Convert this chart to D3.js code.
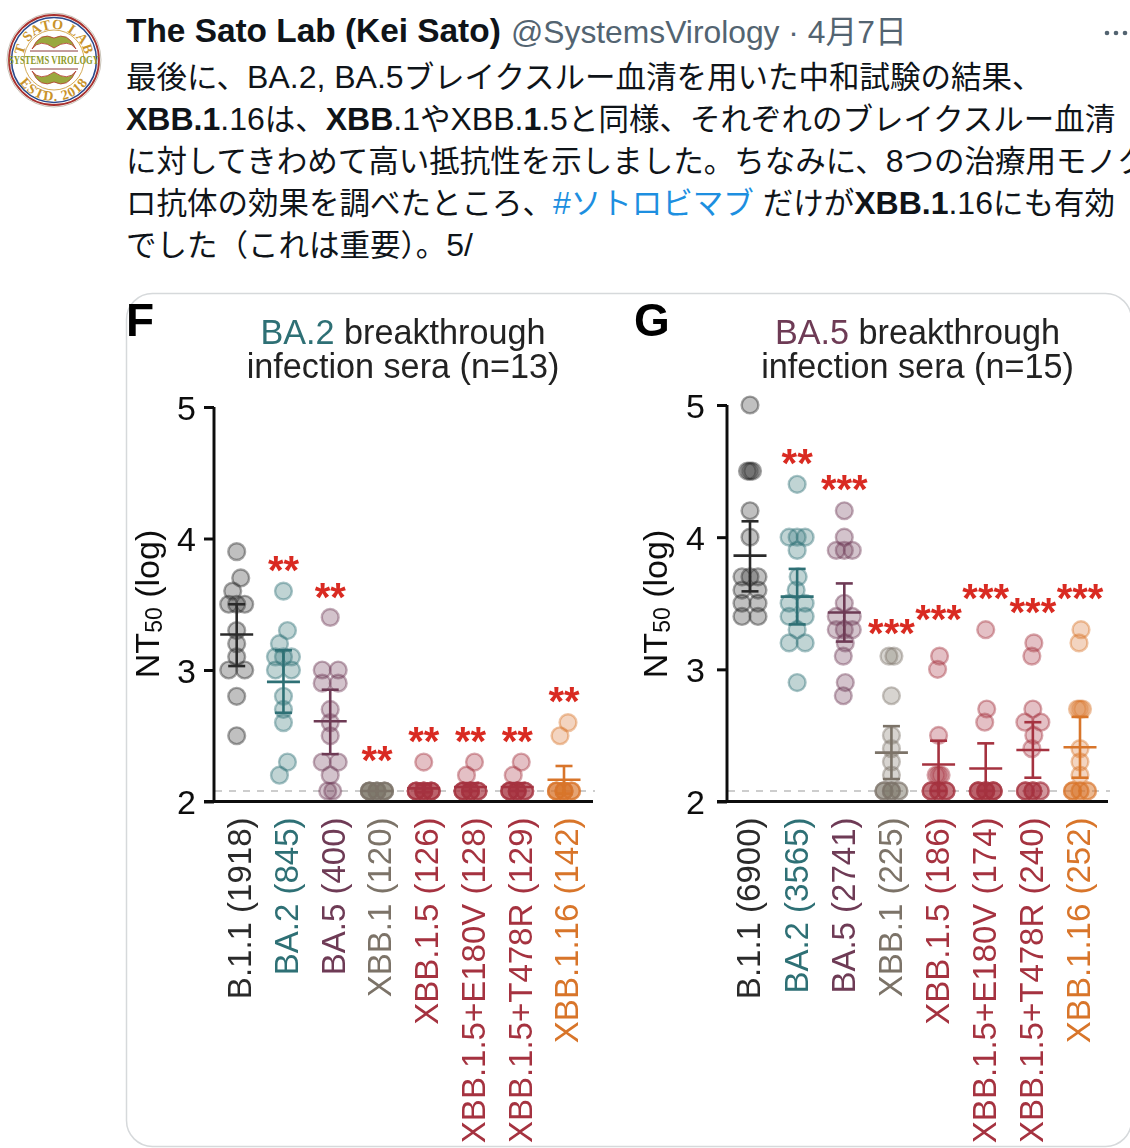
<!DOCTYPE html>
<html lang="ja"><head><meta charset="utf-8">
<script src="https://cdnjs.cloudflare.com/ajax/libs/d3/7.8.5/d3.min.js"></script>
<style>html,body{margin:0;padding:0;background:#fff;overflow:hidden}svg{display:block}</style>
</head><body><svg id="c" width="1130" height="1148"></svg>
<script>
const floorV = 2.08;
const fLabels = ["B.1.1 (1918)","BA.2 (845)","BA.5 (400)","XBB.1 (120)","XBB.1.5 (126)","XBB.1.5+E180V (128)","XBB.1.5+T478R (129)","XBB.1.16 (142)"];
const gLabels = ["B.1.1 (6900)","BA.2 (3565)","BA.5 (2741)","XBB.1 (225)","XBB.1.5 (186)","XBB.1.5+E180V (174)","XBB.1.5+T478R (240)","XBB.1.16 (252)"];
const fValues = [
 [3.9,3.7,3.6,3.5,3.5,3.5,3.3,3.2,3.1,3.0,3.0,2.8,2.5],
 [3.6,3.3,3.2,3.1,3.1,3.1,3.0,3.0,2.8,2.7,2.6,2.3,2.2],
 [3.4,3.0,3.0,2.9,2.9,2.7,2.6,2.5,2.3,2.3,2.2,2.08,2.08],
 [2.08,2.08,2.08,2.08,2.08,2.08,2.08,2.08,2.08,2.08,2.08,2.08,2.08],
 [2.3,2.08,2.08,2.08,2.08,2.08,2.08,2.08,2.08,2.08,2.08,2.08,2.08],
 [2.3,2.2,2.08,2.08,2.08,2.08,2.08,2.08,2.08,2.08,2.08,2.08,2.08],
 [2.3,2.2,2.08,2.08,2.08,2.08,2.08,2.08,2.08,2.08,2.08,2.08,2.08],
 [2.6,2.5,2.08,2.08,2.08,2.08,2.08,2.08,2.08,2.08,2.08,2.08,2.08]];
const gValues = [
 [5.0,4.5,4.5,4.5,4.2,4.0,3.7,3.7,3.7,3.6,3.6,3.5,3.5,3.4,3.4],
 [4.4,4.0,4.0,4.0,3.9,3.7,3.6,3.5,3.5,3.4,3.4,3.3,3.2,3.2,2.9],
 [4.2,4.0,3.9,3.9,3.9,3.5,3.4,3.4,3.3,3.3,3.3,3.2,3.1,2.9,2.8],
 [3.1,3.1,2.8,2.5,2.4,2.3,2.2,2.08,2.08,2.08,2.08,2.08,2.08,2.08,2.08],
 [3.1,3.0,2.5,2.2,2.2,2.2,2.08,2.08,2.08,2.08,2.08,2.08,2.08,2.08,2.08],
 [3.3,2.7,2.6,2.08,2.08,2.08,2.08,2.08,2.08,2.08,2.08,2.08,2.08,2.08,2.08],
 [3.2,3.1,2.7,2.6,2.6,2.5,2.4,2.08,2.08,2.08,2.08,2.08,2.08,2.08,2.08],
 [3.3,3.2,2.7,2.7,2.7,2.4,2.3,2.2,2.08,2.08,2.08,2.08,2.08,2.08,2.08]];
const fMean  = [3.27,2.91,2.61,2.08,2.10,2.11,2.11,2.165];
const fUpper = [3.50,3.15,2.85,2.08,2.13,2.14,2.14,2.27];
const fLower = [3.03,2.675,2.36,2.08,2.07,2.08,2.08,2.06];
const gMean  = [3.86,3.55,3.43,2.37,2.28,2.25,2.39,2.41];
const gUpper = [4.12,3.76,3.65,2.57,2.46,2.44,2.60,2.64];
const gLower = [3.59,3.34,3.21,2.17,2.08,2.08,2.18,2.18];
const fStars = ["","**","**","**","**","**","**","**"];
const gStars = ["","**","***","***","***","***","***","***"];
const fStarLevel = [0,3.80,3.59,2.35,2.50,2.50,2.50,2.80];
const gStarLevel = [0,4.60,4.40,3.31,3.42,3.58,3.47,3.58];
const yTicks = [2,3,4,5];
const colors = ["#2b2b2b","#2e6f74","#6e3a55","#7b7368","#a5333f","#a5333f","#a5333f","#d8752a"];
const tweetLines = [
 [["最後に、BA.2, BA.5ブレイクスルー血清を用いた中和試験の結果、",0]],
 [["XBB.1",1],[".16は、",0],["XBB",1],[".1や",0],["XBB.",0],["1",1],[".5と同様、それぞれのブレイクスルー血清",0]],
 [["に対してきわめて高い抵抗性を示しました。ちなみに、8つの治療用モノク",0]],
 [["ロ抗体の効果を調べたところ、",0],["#ソトロビマブ",2],[" だけが",0],["XBB.1",1],[".16にも有効",0]],
 [["でした（これは重要）。5/",0]]];

const svg = d3.select("#c");
const SANS = '"Liberation Sans",Arial,sans-serif';
const CJK = '"Liberation Sans","Noto Sans CJK JP",sans-serif';

/* ---- tweet header ---- */
const logo = svg.append("g").attr("transform","translate(54,60)");
const rings=[[47,"#fff","#c9c3b8",1],[45,"none","#a8322f",1.8],[42.5,"none","#2b4a8c",1.6],[30,"none","#c9932a",.8]];
rings.forEach(r=>logo.append("circle").attr("r",r[0]).attr("fill",r[1]).attr("stroke",r[2]).attr("stroke-width",r[3]));
const defs=svg.append("defs");
defs.append("path").attr("id","arcT").attr("d","M-31,0A31,31 0 0 1 31,0");
defs.append("path").attr("id","arcB").attr("d","M-41,0A41,41 0 0 0 41,0");
logo.append("text").attr("font-family",'"Liberation Serif",serif').attr("font-weight","700").attr("font-size",14).attr("fill","#c9932a").attr("letter-spacing",.6)
 .append("textPath").attr("href","#arcT").attr("startOffset","50%").attr("text-anchor","middle").text("T SATO LAB");
logo.append("text").attr("font-family",'"Liberation Serif",serif').attr("font-weight","700").attr("font-size",14).attr("fill","#c9932a").attr("letter-spacing",1)
 .append("textPath").attr("href","#arcB").attr("startOffset","50%").attr("text-anchor","middle").text("ESTD. 2018");
[-1,1].forEach(s=>{
  logo.append("path").attr("d",`M-22,${s*11}Q-14,${s*22} 0,${s*12}Q14,${s*22} 22,${s*11}Q14,${s*29} 0,${s*22}Q-14,${s*29} -22,${s*11}Z`).attr("fill","#9aa83e").attr("stroke","#b5372f").attr("stroke-width",.8);
  logo.append("line").attr("x1",-24).attr("x2",24).attr("y1",s*9).attr("y2",s*9).attr("stroke","#8a3a3a").attr("stroke-width",1);
});
logo.append("text").attr("text-anchor","middle").attr("y",4).attr("font-family",'"Liberation Serif",serif').attr("font-weight","700").attr("font-size",12).attr("fill","#8c9a2a").attr("textLength",90).attr("lengthAdjust","spacingAndGlyphs").text("SYSTEMS VIROLOGY");

svg.append("text").attr("x",126).attr("y",42).attr("font-family",SANS).attr("font-weight","700").attr("font-size",33.4).attr("fill","#0f1419").text("The Sato Lab (Kei Sato)");
svg.append("text").attr("x",511).attr("y",43).attr("font-family",CJK).attr("font-size",31.8).attr("fill","#536471").text("@SystemsVirology · 4月7日");
d3.range(3).forEach(i=>svg.append("circle").attr("cx",1107+i*9).attr("cy",33).attr("r",2.3).attr("fill","#536471"));

const tw = svg.append("g").attr("font-family",CJK).attr("font-size",30.5).attr("fill","#0f1419");
tweetLines.forEach((ln,i)=>{
  const t=tw.append("text").attr("x",126).attr("y",88+i*42).attr("xml:space","preserve");
  ln.forEach(s=>{
    (s[0].match(/[\x21-\x7e ]+|[^\x21-\x7e ]+/g)||[]).forEach(part=>{
      const latin=/^[\x21-\x7e ]/.test(part);
      t.append("tspan").text(part).attr("font-size",latin?32:null)
       .attr("font-weight",s[1]==1?700:400).attr("fill",s[1]==2?"#1d8fe0":null);
    });
  });
});

/* ---- card ---- */
svg.append("rect").attr("x",126.5).attr("y",293.5).attr("width",1005).attr("height",853).attr("rx",26).attr("fill","#fff").attr("stroke","#d6d9db").attr("stroke-width",1.5);

/* ---- swarm rule: ties spread sideways, short runs of neighbours lean apart ---- */
function swarm(vals,lean){
  const groups=d3.rollups(vals,v=>v.length,v=>v).sort((a,b)=>b[0]-a[0]);
  const close=(a,b)=>a&&b&&Math.abs(a[0]-b[0])<0.105;
  const out=[];
  groups.forEach(([v,n],gi)=>{
    const up=groups[gi-1],dn=groups[gi+1],me=groups[gi];
    if(n>=7){ d3.range(n).forEach(k=>out.push({v,dx:[-7.5,0,7.5][k%3]})); return; }
    if(n>1){
      const w=(!close(up,me)&&!close(dn,me))?2.5:8;
      d3.range(n).forEach(k=>out.push({v,dx:-w+2*w*k/(n-1)})); return;
    }
    const upRun=close(up,me)&&up[1]==1, dnRun=close(dn,me)&&dn[1]==1;
    const up2=upRun&&close(groups[gi-2],up)&&groups[gi-2][1]==1;
    const dn2=dnRun&&close(groups[gi+2],dn)&&groups[gi+2][1]==1;
    let dx=0;
    if(dnRun&&!upRun&&!dn2) dx=lean;
    if(upRun&&!dnRun&&!up2) dx=-lean;
    out.push({v,dx});
  });
  return out;
}

function panel(o){
  const g=svg.append("g").attr("filter","url(#soft)");
  const y=d3.scaleLinear().domain([2,5]).range([o.y2,o.y5]);
  const x=d3.scalePoint().domain(o.labels).range([o.x0,o.x1]);

  g.append("line").attr("x1",o.axisX+1).attr("x2",o.axisEnd+2).attr("y1",y(floorV)).attr("y2",y(floorV))
    .attr("stroke","#bdbdbd").attr("stroke-width",1.6).attr("stroke-dasharray","7 7");

  o.labels.forEach((lab,i)=>{
    const cg=g.append("g");
    cg.selectAll("circle").data(swarm(o.values[i],o.lean)).join("circle")
      .attr("cx",d=>x(lab)+d.dx).attr("cy",d=>y(d.v)).attr("r",8.4)
      .attr("fill",colors[i]).attr("fill-opacity",.3)
      .attr("stroke",colors[i]).attr("stroke-opacity",.42).attr("stroke-width",2.4);
    const cap=8.5, mw=16.5, cx=x(lab), e=g.append("g").attr("stroke",colors[i]).attr("stroke-width",2.6);
    if(o.upper[i]!==o.lower[i]){
      e.append("line").attr("x1",cx).attr("x2",cx).attr("y1",y(o.upper[i])).attr("y2",y(o.lower[i]));
      [o.upper[i],o.lower[i]].forEach(v=>e.append("line").attr("x1",cx-cap).attr("x2",cx+cap).attr("y1",y(v)).attr("y2",y(v)));
    }
    e.append("line").attr("x1",cx-mw).attr("x2",cx+mw).attr("y1",y(o.mean[i])).attr("y2",y(o.mean[i]));
    if(o.stars[i]) g.append("text").attr("x",cx).attr("y",y(o.starLevel[i])+19).attr("text-anchor","middle")
      .attr("font-family",SANS).attr("font-weight",700).attr("font-size",40).attr("fill","#d92b20").text(o.stars[i]);
  });

  const ya=g.append("g").attr("transform",`translate(${o.axisX},0)`)
    .call(d3.axisLeft(y).tickValues(yTicks).tickSize(10).tickPadding(o.tickPad).tickFormat(d3.format("d")));
  ya.selectAll("path").attr("d",`M0,${o.y5}V${o.y2}`).attr("stroke","#111").attr("stroke-width",3);
  ya.selectAll("line").attr("stroke","#111").attr("stroke-width",3);
  ya.selectAll("text").attr("font-family",SANS).attr("font-size",34).attr("fill","#111").attr("dy","0.36em");

  const xa=g.append("g").attr("transform",`translate(0,${o.y2})`)
    .call(d3.axisBottom(x).tickSize(0).tickPadding(0));
  xa.selectAll("path").attr("d",`M${o.axisX-10},0H${o.axisEnd}`).attr("stroke","#111").attr("stroke-width",3);
  xa.selectAll(".tick text").attr("transform","rotate(-90)").attr("text-anchor","end").attr("x",-16).attr("y",o.labelDy).attr("dy","0.36em")
    .attr("font-family",SANS).attr("font-size",33).attr("fill",(d,i)=>colors[i]);

  const nt=g.append("text").attr("transform",`translate(${o.ntX},604) rotate(-90)`).attr("text-anchor","middle")
    .attr("font-family",SANS).attr("font-size",34).attr("fill","#111");
  nt.append("tspan").text("NT");
  nt.append("tspan").text("50").attr("font-size",23).attr("dy",3);
  nt.append("tspan").text(" (log)").attr("dy",-3);

  const t=g.append("text").attr("x",o.titleX).attr("y",344).attr("text-anchor","middle").attr("font-family",SANS).attr("font-size",34.2).attr("fill","#222");
  t.append("tspan").text(o.title).attr("fill",o.titleColor);
  t.append("tspan").text(" breakthrough");
  g.append("text").attr("x",o.titleX).attr("y",378).attr("text-anchor","middle").attr("font-family",SANS).attr("font-size",34.2).attr("fill","#222").text(o.sub);
  g.append("text").attr("x",o.letterX).attr("y",336).attr("font-family",SANS).attr("font-weight","700").attr("font-size",46).attr("fill","#000").text(o.letter);
}
const soft=defs.append("filter").attr("id","soft").attr("filterUnits","userSpaceOnUse").attr("x",0).attr("y",0).attr("width",1130).attr("height",1148);
soft.append("feGaussianBlur").attr("stdDeviation",.45);

panel({labels:fLabels,values:fValues,mean:fMean,upper:fUpper,lower:fLower,stars:fStars,starLevel:fStarLevel,lean:4,tickPad:8,ntX:159,labelDy:2,
  y2:801.5,y5:407,x0:236.7,x1:564,axisX:214,axisEnd:593,title:"BA.2",titleColor:"#2e6f74",titleX:403,sub:"infection sera (n=13)",letter:"F",letterX:126});
panel({labels:gLabels,values:gValues,mean:gMean,upper:gUpper,lower:gLower,stars:gStars,starLevel:gStarLevel,lean:1,tickPad:12,ntX:667,labelDy:-2,
  y2:801.5,y5:405,x0:750,x1:1080,axisX:727,axisEnd:1108,title:"BA.5",titleColor:"#6e3a55",titleX:917.5,sub:"infection sera (n=15)",letter:"G",letterX:634});
</script></body></html>
